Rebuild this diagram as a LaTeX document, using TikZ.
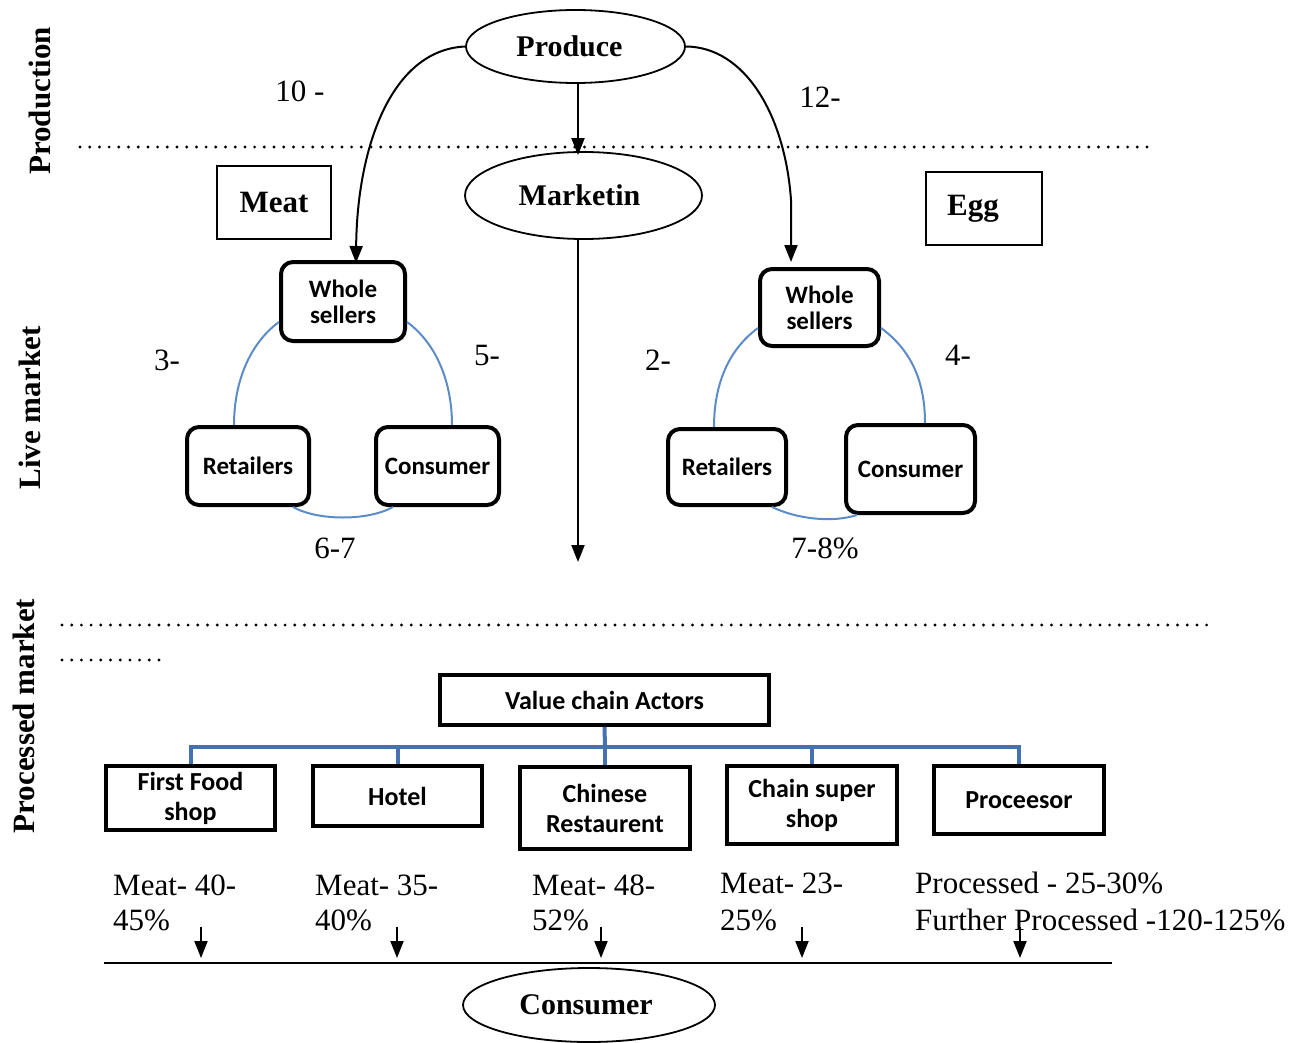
\documentclass[tikz,border=0pt]{standalone}
\usepackage{fontspec}
\setmainfont{Liberation Serif}
\newfontfamily\calfont{Carlito}
\usetikzlibrary{arrows.meta,shapes.geometric,calc}
\definecolor{officeblue}{RGB}{91,140,200}
\definecolor{treeblue}{RGB}{68,114,176}
\tikzset{
  lbl/.style={font=\fontsize{31}{36}\selectfont, inner sep=0pt},
  hdr/.style={font=\bfseries\fontsize{31}{36}\selectfont, inner sep=0pt},
  oval/.style={draw, ellipse, line width=1.8pt, inner sep=0pt, font=\bfseries\fontsize{30}{36}\selectfont},
  sqbox/.style={draw, line width=1.8pt, inner sep=0pt, font=\bfseries\fontsize{31}{36}\selectfont},
  livebox/.style={draw, rounded corners=12pt, line width=4pt, inner sep=0pt, align=center, font=\calfont\bfseries\fontsize{25}{26}\selectfont},
  actbox/.style={draw, line width=4pt, inner sep=0pt, align=center, font=\calfont\bfseries\fontsize{26}{30}\selectfont},
  arcline/.style={officeblue, line width=2pt},
  tree/.style={treeblue, line width=4pt},
  flow/.style={line width=2pt, -{Triangle[length=17pt,width=13pt]}},
  dotline/.style={line width=3.2pt, line cap=round, dash pattern=on 0pt off 9.7pt},
}
\begin{document}
\begin{tikzpicture}[x=1pt,y=-1pt]
\useasboundingbox (0,0) rectangle (1311,1043);

% section headings
\node[hdr, rotate=90] (hprod) at (40,101) {Production};
\node[hdr, rotate=90] (hlive) at (30,408) {Live market};
\node[hdr, rotate=90] (hproc) at (24,716) {Processed market};

% dotted separators
\coordinate (d1a) at (80,147);
\coordinate (d1b) at (1150,147);
\coordinate (d2a) at (62,625);
\coordinate (d2b) at (1210,625);
\coordinate (d3a) at (62,660);
\coordinate (d3b) at (162,660);
\draw[dotline] (d1a) -- (d1b);
\draw[dotline] (d2a) -- (d2b);
\draw[dotline] (d3a) -- (d3b);

% top ellipses and boxes
\node[oval, minimum width=219pt, minimum height=73pt] (prod) at (575.5,46.5) {Produce\kern12pt};
\node[oval, minimum width=237pt, minimum height=87pt] (mk) at (583.5,195.5) {Marketin\kern8pt};
\node[sqbox, minimum width=114pt, minimum height=73pt] (meat) at (274,202.5) {Meat};
\node[sqbox, minimum width=116pt, minimum height=73pt] (egg) at (984,208.5) {Egg\kern22pt};

% live market boxes
\node[livebox, minimum width=124pt, minimum height=79pt] (ws1) at (343,301.5) {Whole\\sellers};
\node[livebox, minimum width=122pt, minimum height=78pt] (ret1) at (248,466) {Retailers};
\node[livebox, minimum width=123pt, minimum height=78pt] (con1) at (437.5,466) {Consumer};
\node[livebox, minimum width=119pt, minimum height=77pt] (ws2) at (819.5,307.5) {Whole\\sellers};
\node[livebox, minimum width=118pt, minimum height=76pt] (ret2) at (727,467) {Retailers};
\node[livebox, minimum width=129pt, minimum height=88pt] (con2) at (910.5,469) {Consumer};

% blue arcs (left)
\draw[arcline] ($(ws1.west)+(0,20.5)$) .. controls +(-30,22) and +(0,-42) .. ($(ret1.north)+(-14,0)$);
\draw[arcline] ($(ws1.east)+(0,20.5)$) .. controls +(30,22) and +(0,-42) .. ($(con1.north)+(14.5,0)$);
\draw[arcline] ($(ret1.south)+(45,0)$) .. controls +(25,14) and +(-25,14) .. ($(con1.south)+(-44.5,0)$);
% blue arcs (right)
\draw[arcline] ($(ws2.west)+(0,20.5)$) .. controls +(-30,22) and +(0,-42) .. ($(ret2.north)+(-13,0)$);
\draw[arcline] ($(ws2.east)+(0,20.5)$) .. controls +(30,22) and +(0,-42) .. ($(con2.north)+(14.5,0)$);
\draw[arcline] ($(ret2.south)+(45,0)$) .. controls +(25,12) and +(-25,8) .. ($(con2.south)+(-53.5,0)$);

% flows from Produce
\draw[flow] (prod.west) .. controls (390,50) and (357,150) .. ($(ws1.north)+(13,3)$);
\draw[flow] (prod.east) .. controls (745,47) and (785,115) .. (791,200) -- ($(ws2.north)+(-28.5,-5)$);
\draw[flow] ($(prod.south)+(2.5,0)$) -- ($(mk.north)+(-5.5,4)$);
\coordinate (mkend) at (578,562);
\draw[flow] ($(mk.south)+(-5.5,0)$) -- (mkend);

% percentage labels
\node[lbl] (l10) at (300,91) {10 -};
\node[lbl] (l12) at (820,97) {12-};
\node[lbl] (l3) at (167,360) {3-};
\node[lbl] (l5) at (487,355) {5-};
\node[lbl] (l67) at (335,548) {6-7};
\node[lbl] (l2) at (658,360) {2-};
\node[lbl] (l4) at (958,355) {4-};
\node[lbl] (l78) at (825,548) {7-8\%};

% value chain tree
\node[actbox, minimum width=329pt, minimum height=50pt] (vca) at (604.5,700) {Value chain Actors};
\coordinate (bus) at (605,747);
\draw[tree] (vca.south) -- (bus);
\node[actbox, minimum width=169pt, minimum height=64pt] (ff) at (190.5,798) {First Food\\shop};
\node[actbox, minimum width=169pt, minimum height=60pt] (ho) at (397.5,796) {Hotel};
\node[actbox, minimum width=170pt, minimum height=82pt] (cr) at (605,808) {Chinese\\Restaurent};
\node[actbox, minimum width=170pt, minimum height=78pt] (cs) at (812,805) {Chain super\\shop};
\node[actbox, minimum width=170pt, minimum height=68pt] (pr) at (1019,800) {Proceesor};
\draw[tree] (ff.north) |- (bus) -| (pr.north);
\draw[tree] (ho.north) -- (ho.north |- bus);
\draw[tree] (cr.north) -- (cr.north |- bus);
\draw[tree] (cs.north) -- (cs.north |- bus);

% shares
\node[lbl, anchor=base west] (m1a) at (113,895) {Meat- 40-};
\node[lbl, anchor=base west] (m1b) at (113,930) {45\%};
\node[lbl, anchor=base west] (m2a) at (315,895) {Meat- 35-};
\node[lbl, anchor=base west] (m2b) at (315,930) {40\%};
\node[lbl, anchor=base west] (m3a) at (532,895) {Meat- 48-};
\node[lbl, anchor=base west] (m3b) at (532,930) {52\%};
\node[lbl, anchor=base west] (m4a) at (720,893) {Meat- 23-};
\node[lbl, anchor=base west] (m4b) at (720,930) {25\%};
\node[lbl, anchor=base west] (p1) at (915,893) {Processed - 25-30\%};
\node[lbl, anchor=base west] (p2) at (915,930) {Further Processed -120-125\%};

% arrows to consumer line
\foreach \i/\xx in {1/201,2/397,3/601,4/802,5/1020}{
  \coordinate (as\i) at (\xx,927);
  \coordinate (ae\i) at (\xx,958);
  \draw[flow] (as\i) -- (ae\i);
}
\coordinate (ll) at (104,963);
\coordinate (lr) at (1112,963);
\draw[line width=2pt] (ll) -- (lr);

\node[oval, minimum width=252pt, minimum height=74pt] (cons) at (589,1005) {Consumer\kern6pt};
\end{tikzpicture}
\end{document}
